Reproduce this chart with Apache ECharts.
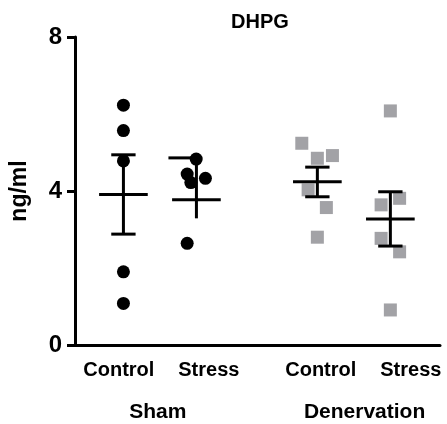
<!DOCTYPE html>
<html>
<head>
<meta charset="utf-8">
<script src="https://cdn.jsdelivr.net/npm/echarts@6/dist/echarts.min.js"></script>
<style>
html,body{margin:0;padding:0;background:#fff;}
#chart{width:447px;height:424px;}
</style>
</head>
<body>
<div id="chart"></div>
<script>
// ---- data ----
const groupNames = ['Sham', 'Denervation'];
const conditionNames = ['Control', 'Stress', 'Control', 'Stress'];
const yTicks = [0, 4, 8];

const groupX = [1.99, 4.99, 9.96, 12.96];

const shamControlX = [1.99, 1.99, 1.99, 1.99, 1.99];
const shamControlY = [6.23, 5.57, 4.78, 1.90, 1.08];

const shamStressX = [4.98, 4.61, 5.36, 4.76, 4.61];
const shamStressY = [4.83, 4.44, 4.33, 4.22, 2.64];

const denControlX = [9.32, 9.96, 10.58, 9.58, 10.33, 9.96];
const denControlY = [5.24, 4.85, 4.92, 4.03, 3.57, 2.80];

const denStressX = [12.96, 13.34, 12.58, 12.58, 13.34, 12.96];
const denStressY = [6.08, 3.81, 3.64, 2.77, 2.42, 0.91];

const means = [3.91, 3.77, 4.24, 3.27];
const semHigh = [4.94, 4.86, 4.62, 3.98];
const semLow = [2.88, 3.29, 3.85, 2.57];

// ---- styling (not data) ----
const capStyle = [
  {topL: 0.5, topR: 0.5, bottom: 0.5},
  {topL: 1.15, topR: 0, bottom: 0},
  {topL: 0.5, topR: 0.5, bottom: 0.5},
  {topL: 0.5, topR: 0.5, bottom: 0.5}
];
const condLabelPos = {18: conditionNames[0], 55: conditionNames[1], 101: conditionNames[2], 138: conditionNames[3]};
const groupLabelPos = {34: groupNames[0], 119: groupNames[1]};

const FONT = "'Liberation Sans', Arial, Helvetica, sans-serif";

function zip(xs, ys) { return xs.map((x, i) => [x, ys[i]]); }

const summaryData = groupX.map((x, i) => [x, means[i], semLow[i], semHigh[i]]);

const chart = echarts.init(document.getElementById('chart'));
chart.setOption({
  animation: false,
  backgroundColor: '#fff',
  title: {
    text: 'DHPG',
    left: 255, top: 7,
    textAlign: 'center',
    textStyle: {fontFamily: FONT, fontWeight: 'bold', fontSize: 20, color: '#000'}
  },
  grid: {left: 73, right: 7, top: 37, bottom: 79, containLabel: false},
  xAxis: [
    {
      type: 'value', min: 0, max: 15,
      axisLine: {show: true, onZero: false, lineStyle: {color: '#000', width: 3}},
      axisTick: {show: false}, axisLabel: {show: false}, splitLine: {show: false}
    },
    {
      type: 'value', min: 0, max: 150, interval: 1, position: 'bottom',
      axisLine: {show: false}, axisTick: {show: false}, splitLine: {show: false},
      axisLabel: {
        show: true, margin: 15, fontFamily: FONT, fontWeight: 'bold', fontSize: 20, color: '#000',
        formatter: v => condLabelPos[Math.round(v)] || ''
      }
    },
    {
      type: 'value', min: 0, max: 150, interval: 1, position: 'bottom',
      axisLine: {show: false}, axisTick: {show: false}, splitLine: {show: false},
      axisLabel: {
        show: true, margin: 57, fontFamily: FONT, fontWeight: 'bold', fontSize: 21, color: '#000',
        formatter: v => groupLabelPos[Math.round(v)] || ''
      }
    }
  ],
  yAxis: {
    type: 'value', min: yTicks[0], max: yTicks[yTicks.length - 1], interval: 4,
    name: 'ng/ml', nameLocation: 'middle', nameRotate: 90, nameGap: 44,
    nameTextStyle: {fontFamily: FONT, fontWeight: 'bold', fontSize: 23, color: '#000'},
    axisLine: {show: true, lineStyle: {color: '#000', width: 3}},
    axisTick: {show: true, inside: false, length: 8, lineStyle: {color: '#000', width: 3}},
    axisLabel: {margin: 13, fontFamily: FONT, fontWeight: 'bold', fontSize: 24, color: '#000'},
    splitLine: {show: false}
  },
  series: [
    {type: 'scatter', xAxisIndex: 0, symbol: 'circle', symbolSize: 13,
     itemStyle: {color: '#000', opacity: 1}, data: zip(shamControlX, shamControlY)},
    {type: 'scatter', xAxisIndex: 0, symbol: 'circle', symbolSize: 13,
     itemStyle: {color: '#000', opacity: 1}, data: zip(shamStressX, shamStressY)},
    {type: 'scatter', xAxisIndex: 0, symbol: 'rect', symbolSize: 13,
     itemStyle: {color: '#a2a2a6', opacity: 1}, data: zip(denControlX, denControlY)},
    {type: 'scatter', xAxisIndex: 0, symbol: 'rect', symbolSize: 13,
     itemStyle: {color: '#a2a2a6', opacity: 1}, data: zip(denStressX, denStressY)},
    {
      type: 'custom', xAxisIndex: 0, z: 5,
      data: summaryData,
      renderItem: function (params, api) {
        const x = api.value(0), m = api.value(1), lo = api.value(2), hi = api.value(3);
        const pm = api.coord([x, m]);
        const ph = api.coord([x, hi]);
        const pl = api.coord([x, lo]);
        const u = api.size([1, 0])[0];
        const cs = capStyle[params.dataIndex];
        const st = {stroke: '#000', lineWidth: 3, fill: null};
        const ch = [
          {type: 'line', shape: {x1: pm[0] - u, y1: pm[1], x2: pm[0] + u, y2: pm[1]}, style: st},
          {type: 'line', shape: {x1: ph[0], y1: ph[1], x2: pl[0], y2: pl[1]}, style: st}
        ];
        if (cs.topL + cs.topR > 0) {
          ch.push({type: 'line', shape: {x1: ph[0] - cs.topL * u, y1: ph[1], x2: ph[0] + cs.topR * u, y2: ph[1]}, style: st});
        }
        if (cs.bottom > 0) {
          ch.push({type: 'line', shape: {x1: pl[0] - cs.bottom * u, y1: pl[1], x2: pl[0] + cs.bottom * u, y2: pl[1]}, style: st});
        }
        return {type: 'group', children: ch};
      }
    }
  ]
});
</script>
</body>
</html>
